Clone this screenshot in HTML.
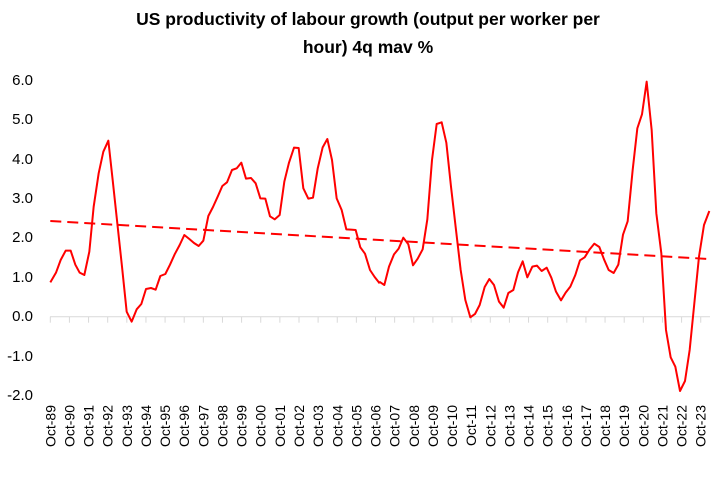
<!DOCTYPE html>
<html><head><meta charset="utf-8"><style>
body{margin:0;background:#fff;}
svg{display:block;font-family:"Liberation Sans",sans-serif;}
</style></head><body>
<svg width="725" height="482" viewBox="0 0 725 482" xmlns="http://www.w3.org/2000/svg">
<text x="368" y="25" text-anchor="middle" font-size="17.5" font-weight="bold" fill="#000">US productivity of labour growth (output per worker per</text>
<text x="368" y="53" text-anchor="middle" font-size="17.5" font-weight="bold" fill="#000">hour) 4q mav %</text>
<g font-size="15" fill="#000" text-anchor="end">
<text x="33" y="85">6.0</text><text x="33" y="124">5.0</text><text x="33" y="164">4.0</text>
<text x="33" y="203">3.0</text><text x="33" y="242">2.0</text><text x="33" y="282">1.0</text>
<text x="33" y="321">0.0</text><text x="33" y="361">-1.0</text><text x="33" y="400">-2.0</text>
</g>
<line x1="50" y1="316.7" x2="710" y2="316.7" stroke="#d9d9d9" stroke-width="1"/>
<g id="ticks" stroke="#d9d9d9" stroke-width="1"></g>
<g id="xl" font-size="14" fill="#000"></g>
<line x1="50.3" y1="221" x2="709.3" y2="259" stroke="#ff0000" stroke-width="2" stroke-dasharray="11,6"/>
<g transform="translate(40,60) scale(0.33333)">
<polyline fill="none" stroke="#ff0000" stroke-width="2" vector-effect="non-scaling-stroke" stroke-linejoin="round" points="31,667 48,638 62,600 77,572 92,572 106,614 119,638 133,645 148,575 161,440 176,340 190,275 205,242 218,360 232,490 246,620 260,755 275,785 290,748 304,732 318,687 333,684 347,689 361,648 376,642 390,614 404,583 419,555 433,525 448,537 462,549 476,558 490,542 505,468 519,441 533,410 547,378 561,367 576,330 590,325 604,308 618,356 633,354 647,370 661,415 676,416 690,469 704,478 719,465 733,365 747,308 762,263 776,264 790,385 805,416 819,413 833,326 848,262 862,237 876,300 890,415 905,450 919,508 933,509 947,510 961,562 975,581 990,630 1004,651 1019,670"/>
</g>
<g transform="translate(370,60) scale(0.33333)">
<polyline fill="none" stroke="#ff0000" stroke-width="2" vector-effect="non-scaling-stroke" stroke-linejoin="round" points="28,665 43,675 57,620 72,583 86,566 100,533 115,553 129,616 143,596 158,568 172,478 186,300 200,192 215,187 229,248 243,380 258,510 272,630 286,720 301,772 315,762 329,735 344,681 358,657 372,675 387,725 401,743 415,699 430,690 444,637 458,604 472,652 487,620 501,617 515,633 530,623 544,653 558,695 573,721 587,698 601,680 616,645 630,601 644,592 659,568 673,551 688,561 702,598 716,630 731,639 745,614 759,524 773,484 788,330 802,205 816,163 830,65 845,210 859,460 874,580 888,810 902,892 916,920 930,993 945,963 959,870 973,730 987,590 1002,495 1018,453"/>
</g>
<script>
var t=document.getElementById('ticks'),xl=document.getElementById('xl'),ns='http://www.w3.org/2000/svg';
for(var i=0;i<=34;i++){var x=50.3+i*19.13;
var l=document.createElementNS(ns,'line');l.setAttribute('x1',x);l.setAttribute('x2',x);l.setAttribute('y1',316.7);l.setAttribute('y2',322.7);t.appendChild(l);
var yr=(89+i)%100;var s='Oct-'+(yr<10?'0':'')+yr;
var tx=document.createElementNS(ns,'text');tx.setAttribute('transform','translate('+(x+5)+',405) rotate(-90)');tx.setAttribute('text-anchor','end');tx.textContent=s;xl.appendChild(tx);}
</script>
</svg>
</body></html>
